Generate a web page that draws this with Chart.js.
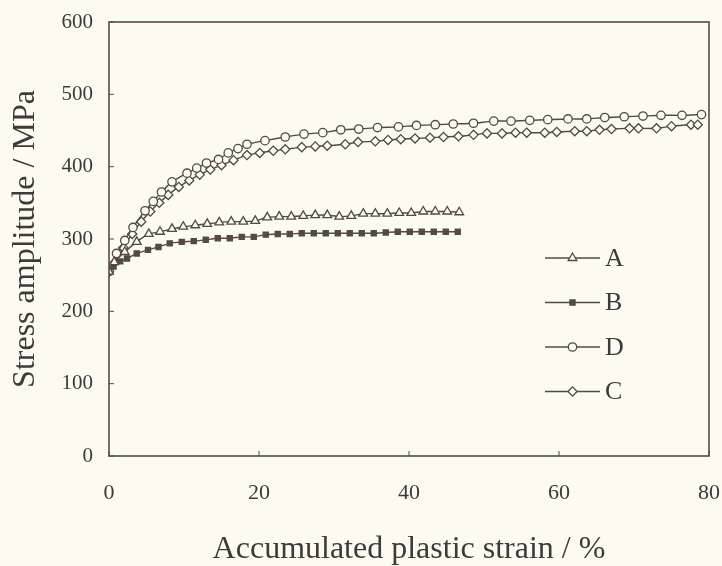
<!DOCTYPE html>
<html>
<head>
<meta charset="utf-8">
<script src="https://cdn.jsdelivr.net/npm/chart.js@4/dist/chart.umd.min.js"></script>
<style>
  html, body { margin: 0; padding: 0; background: #fbfbf1; }
  #wrap { width: 722px; height: 566px; position: relative; }
</style>
</head>
<body>
<div id="wrap"><canvas id="stressChart" width="722" height="566"></canvas></div>
<script>
// 読み取ったデータ (累積塑性ひずみ % / 応力振幅 MPa)
const xTicks = [0, 20, 40, 60, 80];
const yTicks = [0, 100, 200, 300, 400, 500, 600];

const strainA = [0, 0.7, 2.1, 3.7, 5.3, 6.8, 8.4, 9.9, 11.5, 13.1, 14.7, 16.3, 17.9, 19.5, 21.1, 22.7, 24.3, 25.9, 27.5, 29.1, 30.7, 32.3, 33.9, 35.5, 37.1, 38.7, 40.3, 41.9, 43.5, 45.1, 46.7];
const stressA = [255, 268, 282, 296, 307, 310, 314, 317, 319, 321, 323, 324, 324, 325, 330, 331, 331, 332, 333, 333, 331, 332, 335, 335, 335, 336, 336, 338, 338, 338, 337];

const strainB = [0, 0.6, 1.5, 2.4, 3.7, 5.2, 6.6, 8.1, 9.7, 11.3, 12.9, 14.5, 16.1, 17.7, 19.3, 20.9, 22.5, 24.1, 25.7, 27.3, 28.9, 30.5, 32.1, 33.7, 35.3, 36.9, 38.5, 40.1, 41.7, 43.3, 44.9, 46.5];
const stressB = [255, 262, 269, 273, 280, 285, 289, 294, 296, 297, 299, 301, 301, 303, 303, 306, 307, 307, 308, 308, 308, 308, 308, 308, 308, 309, 310, 310, 310, 310, 310, 310];

const strainD = [0, 1, 2.1, 3.2, 4.8, 5.9, 7, 8.4, 10.4, 11.7, 13, 14.6, 15.9, 17.2, 18.4, 20.8, 23.5, 26, 28.5, 30.9, 33.3, 35.8, 38.6, 41, 43.5, 45.9, 48.6, 51.3, 53.6, 56.1, 58.5, 61.2, 63.7, 66.1, 68.7, 71.2, 73.6, 76.4, 79];
const stressD = [255, 280, 298, 316, 339, 352, 365, 379, 391, 398, 405, 410, 419, 425, 431, 436, 441, 445, 447, 451, 452, 454, 455, 457, 458, 459, 460, 463, 463, 464, 465, 466, 466, 468, 469, 470, 471, 471, 472];

const strainC = [0, 0.8, 1.9, 3.1, 4.3, 5.5, 6.7, 7.9, 9.3, 10.7, 12.1, 13.5, 15, 16.6, 18.4, 20.1, 21.9, 23.5, 25.7, 27.5, 29.1, 31.5, 33.2, 35.5, 37.2, 38.9, 40.8, 42.8, 44.6, 46.6, 48.6, 50.4, 52.4, 54.2, 55.7, 58.1, 59.7, 62.1, 63.7, 65.4, 67, 69.4, 70.6, 73, 75, 77.6, 78.5];
const stressC = [255, 268, 288, 307, 324, 338, 350, 361, 372, 381, 389, 396, 402, 409, 416, 419, 422, 424, 427, 428, 429, 431, 434, 435, 437, 438, 439, 440, 441, 442, 444, 446, 446, 447, 447, 447, 448, 449, 449, 451, 452, 453, 453, 453, 456, 458, 458];

const legendOrder = ['A', 'B', 'D', 'C'];

const ink = '#544a44';
const paper = '#fbfbf1';
const textInk = '#3e3a36';
const serif = "'Liberation Serif', 'DejaVu Serif', serif";

const toPoints = (xs, ys) => xs.map((x, i) => ({ x: x, y: ys[i] }));

function series(label, xs, ys, style, radius, fill) {
  return {
    label: label,
    data: toPoints(xs, ys),
    borderColor: ink,
    borderWidth: 1.4,
    pointStyle: style,
    pointRadius: radius,
    pointBorderWidth: 1.3,
    pointBorderColor: ink,
    pointBackgroundColor: fill,
    tension: 0.2,
    fill: false
  };
}

// 枠線と内向きの目盛り
const frame = {
  id: 'frame',
  afterDatasetsDraw(chart) {
    const { ctx, chartArea: a, scales } = chart;
    ctx.save();
    ctx.strokeStyle = ink;
    ctx.lineWidth = 1.6;
    ctx.strokeRect(a.left, a.top, a.right - a.left, a.bottom - a.top);
    ctx.lineWidth = 1;
    xTicks.forEach(v => {
      const px = scales.x.getPixelForValue(v);
      ctx.beginPath(); ctx.moveTo(px, a.bottom); ctx.lineTo(px, a.bottom - 5); ctx.stroke();
    });
    yTicks.forEach(v => {
      const py = scales.y.getPixelForValue(v);
      ctx.beginPath(); ctx.moveTo(a.left, py); ctx.lineTo(a.left + 5, py); ctx.stroke();
    });
    ctx.restore();
  }
};

// 図中の凡例
const insideLegend = {
  id: 'insideLegend',
  afterDraw(chart) {
    const { ctx } = chart;
    const x0 = 545, x1 = 600, top = 258, gap = 44.5;
    ctx.save();
    legendOrder.forEach((name, i) => {
      const ds = chart.data.datasets.find(d => d.label === name);
      const y = top + i * gap;
      ctx.strokeStyle = ink;
      ctx.lineWidth = 1.4;
      ctx.beginPath(); ctx.moveTo(x0, y); ctx.lineTo(x1, y); ctx.stroke();
      ctx.fillStyle = ds.pointBackgroundColor;
      ctx.lineWidth = 1.3;
      Chart.helpers.drawPoint(ctx, { pointStyle: ds.pointStyle, radius: ds.pointRadius, borderWidth: 1.3 }, (x0 + x1) / 2, y);
      ctx.fillStyle = textInk;
      ctx.font = '26px ' + serif;
      ctx.textBaseline = 'middle';
      ctx.fillText(name, x1 + 5, y + 1);
    });
    ctx.restore();
  }
};

const background = {
  id: 'background',
  beforeDraw(chart) {
    const { ctx, width, height } = chart;
    ctx.save();
    ctx.fillStyle = paper;
    ctx.fillRect(0, 0, width, height);
    ctx.restore();
  }
};

new Chart(document.getElementById('stressChart').getContext('2d'), {
  type: 'line',
  data: {
    datasets: [
      series('A', strainA, stressA, 'triangle', 5, paper),
      series('B', strainB, stressB, 'rect', 3.6, ink),
      series('D', strainD, stressD, 'circle', 4.2, paper),
      series('C', strainC, stressC, 'rectRot', 4.6, paper)
    ]
  },
  options: {
    responsive: false,
    animation: false,
    layout: { padding: { left: 0, right: 13, top: 22, bottom: 0 } },
    plugins: { legend: { display: false }, tooltip: { enabled: false } },
    scales: {
      x: {
        type: 'linear',
        min: 0, max: 80,
        afterBuildTicks: s => { s.ticks = xTicks.map(v => ({ value: v })); },
        afterFit: s => { s.height = 110; s.paddingLeft = 0; s.paddingRight = 0; },
        grid: { display: false, drawTicks: false },
        border: { display: false },
        ticks: { color: textInk, font: { family: serif, size: 22 }, padding: 24, maxRotation: 0 },
        title: { display: true, text: 'Accumulated plastic strain / %', color: textInk, font: { family: serif, size: 32 }, padding: { top: 10, bottom: -3 } }
      },
      y: {
        min: 0, max: 600,
        afterBuildTicks: s => { s.ticks = yTicks.map(v => ({ value: v })); },
        afterFit: s => { s.width = 109; s.paddingTop = 0; s.paddingBottom = 0; },
        grid: { display: false, drawTicks: false },
        border: { display: false },
        ticks: { color: textInk, font: { family: serif, size: 21 }, padding: 16 },
        title: { display: true, text: 'Stress amplitude / MPa', color: textInk, font: { family: serif, size: 32 }, padding: { top: 6, bottom: 0 } }
      }
    }
  },
  plugins: [background, frame, insideLegend]
});
</script>
</body>
</html>
